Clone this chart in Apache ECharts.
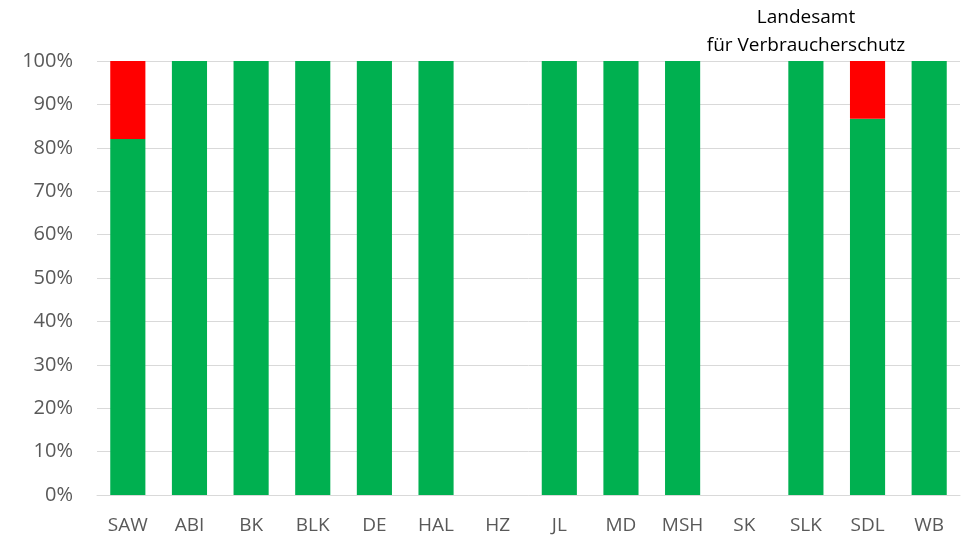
<!DOCTYPE html>
<html>
<head>
<meta charset="utf-8">
<script src="https://cdn.jsdelivr.net/npm/echarts@6/dist/echarts.min.js"></script>
<style>
  html, body { margin: 0; padding: 0; background: #fff; }
  #chart { width: 966px; height: 538px; }
</style>
</head>
<body>
<div id="chart"></div>
<script>
  // Landkreise / kreisfreie Städte
  const categories = ['SAW', 'ABI', 'BK', 'BLK', 'DE', 'HAL', 'HZ', 'JL', 'MD', 'MSH', 'SK', 'SLK', 'SDL', 'WB'];
  // Anteile in Prozent (HZ und SK ohne Daten)
  const greenShare = [82, 100, 100, 100, 100, 100, null, 100, 100, 100, null, 100, 86.7, 100];
  const redShare = [18, 0, 0, 0, 0, 0, null, 0, 0, 0, null, 0, 13.3, 0];
  const yTicks = [0, 10, 20, 30, 40, 50, 60, 70, 80, 90, 100];

  const font = '"Open Sans", "Noto Sans", sans-serif';
  let myChart = echarts.init(document.getElementById('chart'));
  let option = {
    animation: false,
    title: {
      text: 'Landesamt\nfür Verbraucherschutz',
      left: 801,
      top: -1,
      textAlign: 'center',
      textStyle: {
        fontFamily: font,
        fontSize: 19,
        fontWeight: 'normal',
        color: '#000',
        lineHeight: 28
      }
    },
    grid: {
      left: 97,
      right: 6,
      top: 61,
      bottom: 43
    },
    xAxis: {
      type: 'category',
      data: categories,
      axisLine: { show: true, lineStyle: { color: '#d9d9d9', width: 1 } },
      axisTick: { show: false },
      axisLabel: {
        margin: 21,
        fontFamily: font,
        fontSize: 19,
        color: '#595959'
      }
    },
    yAxis: {
      type: 'value',
      min: yTicks[0],
      max: yTicks[yTicks.length - 1],
      interval: 10,
      axisLine: { show: false },
      axisTick: { show: false },
      splitLine: { lineStyle: { color: '#d9d9d9', width: 1 } },
      axisLabel: {
        margin: 24,
        fontFamily: font,
        fontSize: 20,
        color: '#595959',
        formatter: '{value}%'
      }
    },
    series: [
      {
        name: 'ok',
        type: 'bar',
        stack: 'total',
        barWidth: '57%',
        itemStyle: { color: '#00b050' },
        data: greenShare
      },
      {
        name: 'nicht ok',
        type: 'bar',
        stack: 'total',
        barWidth: '57%',
        itemStyle: { color: '#ff0000' },
        data: redShare
      }
    ]
  };
  myChart.setOption(option);
</script>
</body>
</html>
